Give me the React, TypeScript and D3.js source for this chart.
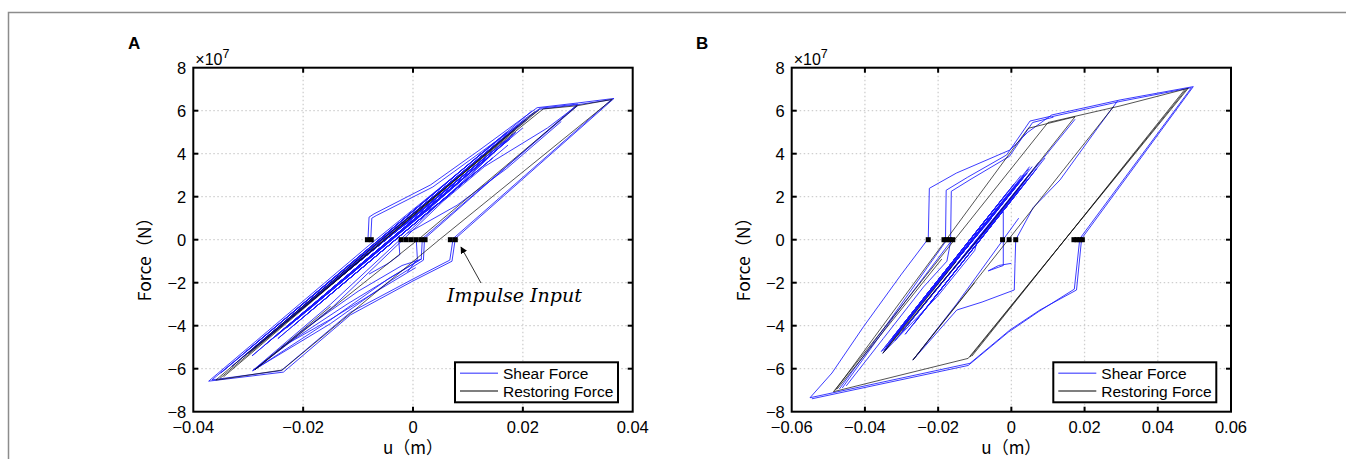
import React from "react";
import * as d3 from "d3";

type Pt = [number, number];

// ---------- ticks ----------
const yTicks = [-8, -6, -4, -2, 0, 2, 4, 6, 8];
const yTickLabels = ["−8", "−6", "−4", "−2", "0", "2", "4", "6", "8"];
const xTicksA = [-0.04, -0.02, 0, 0.02, 0.04];
const xTickLabelsA = ["−0.04", "−0.02", "0", "0.02", "0.04"];
const xTicksB = [-0.06, -0.04, -0.02, 0, 0.02, 0.04, 0.06];
const xTickLabelsB = ["−0.06", "−0.04", "−0.02", "0", "0.02", "0.04", "0.06"];
const legendLabels = ["Shear Force", "Restoring Force"];

// ---------- panel A: shear force (u [m], F [1e7 N]) ----------
const shearA1: Pt[] = [[-0.0082, 0.0], [-0.008, 1.05], [-0.0071, 1.2], [0.0032, 2.55], [0.012, 4.15], [0.0226, 6.14], [0.03, 6.36], [0.0366, 6.57], [0.0077, 0.05], [0.0071, -1.0], [0.0, -1.92], [-0.0114, -3.5], [-0.0236, -6.16], [-0.0372, -6.58], [-0.0082, -0.3], [0.0205, 5.65]];
const shearA2: Pt[] = [[-0.0077, 0.0], [-0.0075, 1.0], [-0.0067, 1.12], [0.0036, 2.45], [0.0124, 4.08], [0.0231, 6.07], [0.03, 6.28], [0.0361, 6.51], [0.0073, 0.05], [0.0067, -0.95], [0.0, -1.83], [-0.0114, -3.38], [-0.024, -6.09], [-0.0366, -6.52], [-0.0077, -0.38], [0.0208, 5.6]];
const shearA3: Pt[] = [[0.0205, 5.65], [0.0232, 6.12], [0.03, 6.31], [0.0021, 0.05], [0.0019, -0.95], [-0.004, -1.9], [-0.015, -3.9], [-0.0292, -6.09], [-0.015, -3.0], [0.0187, 5.0]];
const shearA4: Pt[] = [[0.03, 6.24], [0.0017, 0.05], [0.0015, -0.9], [-0.0044, -1.8], [-0.0154, -3.8], [-0.0288, -6.04], [-0.0145, -3.1], [0.0182, 4.9]];
const shearA5: Pt[] = [[0.0187, 5.0], [-0.0296, -5.2], [0.0168, 4.6], [-0.0277, -4.8], [0.0149, 4.2], [-0.0259, -4.4], [0.0131, 3.8], [-0.024, -4.0], [0.0112, 3.4], [-0.0221, -3.6], [0.0093, 3.0], [-0.0203, -3.2], [0.0075, 2.6], [-0.0184, -2.8], [0.0056, 2.2], [-0.0166, -2.4], [0.0038, 1.8], [-0.0147, -2.0], [0.0019, 1.4], [-0.0128, -1.6]];
const shearA6: Pt[] = [[0.014, 3.9], [-0.025, -4.5], [0.0122, 3.5], [-0.023, -4.1], [0.0104, 3.1], [-0.0211, -3.7], [0.0086, 2.7], [-0.0192, -3.3], [0.0068, 2.3], [-0.0174, -2.9], [0.005, 1.9], [-0.0155, -2.5], [0.0032, 1.5], [-0.0136, -2.1]];
const shearA7: Pt[] = [[-0.0292, -6.09], [-0.0215, -4.6], [-0.012, -3.0], [-0.003, -1.6], [0.0012, -0.95]];
const shearA8: Pt[] = [[-0.029, -6.06], [-0.02, -4.2], [-0.01, -2.4], [-0.002, -1.2], [0.0016, -0.9]];
const shearA9: Pt[] = [[-0.024, -5.0], [-0.015, -3.7], [-0.006, -2.3], [0.0005, -1.3]];
const shearA10: Pt[] = [[-0.002, 0.6], [0.006, 1.9], [0.013, 3.4], [0.0245, 5.2], [0.0299, 6.25]];
const shearA11: Pt[] = [[-0.001, 0.3], [0.008, 1.6], [0.017, 3.3], [0.027, 5.5]];
const shearA12: Pt[] = [[-0.0026, 0.0], [-0.0024, -0.7], [-0.0045, -1.1], [-0.008, -1.6]];
const shearA13: Pt[] = [[0.0006, 0.0], [0.0008, -0.9], [-0.001, -1.5]];
const shearA14: Pt[] = [[0.0205, 5.6], [-0.033, -5.9], [0.0191, 5.3], [-0.0312, -5.5], [0.0172, 4.9], [-0.0289, -5.0], [0.0149, 4.4], [-0.0265, -4.5], [0.0125, 3.9], [-0.0242, -4.0], [0.0102, 3.4], [-0.0219, -3.5], [0.0079, 2.9], [-0.0196, -3.0], [0.0056, 2.4], [-0.0172, -2.5], [0.0032, 1.9], [-0.0149, -2.0], [0.0009, 1.4], [-0.0126, -1.5], [-0.0014, 0.9], [-0.0103, -1.0]];
const shearA15: Pt[] = [[0.0173, 4.4], [-0.0246, -4.6], [0.0145, 3.8], [-0.0218, -4.0], [0.0117, 3.2], [-0.019, -3.4], [0.0089, 2.6], [-0.0162, -2.8], [0.0061, 2.0], [-0.0134, -2.2], [0.0033, 1.4], [-0.0106, -1.6]];
const shearA16: Pt[] = [[0.02, 5.2], [-0.0293, -5.4], [0.0177, 4.7], [-0.027, -4.9], [0.0153, 4.2], [-0.0247, -4.4], [0.013, 3.7], [-0.0223, -3.9], [0.0107, 3.2], [-0.02, -3.4], [0.0084, 2.7], [-0.0177, -2.9], [0.006, 2.2], [-0.0154, -2.4], [0.0037, 1.7], [-0.013, -1.9]];
const shearA17: Pt[] = [[0.0217, 6.0], [-0.035, -6.2], [0.0171, 5.0], [-0.0304, -5.2], [0.0124, 4.0], [-0.0257, -4.2], [0.0078, 3.0], [-0.0211, -3.2]];

// ---------- panel A: restoring force ----------
const restA1: Pt[] = [[-0.0058, 0.0], [0.0237, 6.08], [0.0299, 6.23], [0.0363, 6.53], [0.0047, -0.02], [-0.0238, -6.06], [-0.0359, -6.53], [-0.0058, 0.0]];
const restA2: Pt[] = [[-0.0352, -6.46], [0.0229, 6.03]];
const restA3: Pt[] = [[0.0299, 6.23], [0.001, 0.02], [-0.0288, -6.05], [-0.015, -3.1]];
const restA4: Pt[] = [[-0.03, -5.3], [0.0185, 5.1]];
const restA5: Pt[] = [[-0.0345, -6.38], [0.0222, 5.95]];
const impulsesA = [-0.0083, -0.0076, -0.00215, -0.00124, -0.00033, 0.00058, 0.00149, 0.0022, 0.0068, 0.0077];

// ---------- panel B: shear force ----------
const shearB1: Pt[] = [[-0.0227, 0.0], [-0.0224, 2.39], [-0.015, 3.1], [-0.0004, 4.17], [0.0045, 5.0], [0.011, 5.8], [0.0297, 6.5], [0.0497, 7.12], [0.0192, 0.05], [0.0178, -2.34], [0.0078, -3.27], [-0.0004, -4.2], [-0.0113, -5.75], [-0.055, -7.35], [-0.049, -6.2], [-0.0404, -4.05], [-0.03, -1.6], [-0.0229, 0.0]];
const shearB2: Pt[] = [[0.011, 5.72], [0.0297, 6.43], [0.0492, 7.07], [0.0187, 0.05], [0.0172, -2.3], [0.0074, -3.35], [-0.0008, -4.3], [-0.0118, -5.85], [-0.0545, -7.4]];
const shearB3: Pt[] = [[-0.047, -6.95], [-0.033, -3.7], [-0.018, -0.1], [-0.0178, 2.3], [-0.012, 2.9], [-0.0013, 3.94], [0.0051, 5.52], [0.011, 5.75]];
const shearB4: Pt[] = [[-0.0462, -6.9], [-0.0322, -3.6], [-0.0166, -0.1], [-0.0164, 2.25], [-0.011, 2.82], [-0.0005, 3.88], [0.0058, 5.45], [0.0115, 5.7]];
const shearB5: Pt[] = [[0.029, 6.45], [0.024, 5.3], [0.0133, 2.78], [0.006, 1.5], [0.0012, 0.0], [0.001, -1.1], [0.0008, -2.34], [-0.008, -2.9], [-0.0149, -3.27], [-0.0269, -5.6], [-0.015, -3.0], [0.002, 1.0]];
const shearB6: Pt[] = [[-0.0022, 1.3], [-0.0022, -1.2], [-0.0063, -1.45], [-0.0035, -1.2], [0.0, -1.1]];
const shearB7: Pt[] = [[0.0174, 5.6], [-0.0092, 0.05], [-0.01, -0.5], [-0.02, -2.6], [-0.0351, -5.28], [-0.015, -0.9], [0.005, 3.4]];
const shearB8: Pt[] = [[0.0057, 3.4], [-0.0342, -5.0], [0.0043, 3.1], [-0.0323, -4.6], [0.0029, 2.8], [-0.0304, -4.2], [0.0015, 2.5], [-0.0286, -3.8], [0.0001, 2.2], [-0.0267, -3.4], [-0.0013, 1.9], [-0.0249, -3.0], [-0.0027, 1.6], [-0.023, -2.6], [-0.0041, 1.3], [-0.0211, -2.2], [-0.0054, 1.0], [-0.0193, -1.8]];
const shearB9: Pt[] = [[0.0075, 3.6], [-0.0318, -4.7], [0.0058, 3.2], [-0.0297, -4.25], [0.0041, 2.8], [-0.0276, -3.8], [0.0024, 2.4], [-0.0255, -3.35], [0.0007, 2.0], [-0.0234, -2.9], [-0.001, 1.6], [-0.0213, -2.45]];
const shearB10: Pt[] = [[0.0048, 3.3], [-0.0348, -5.15], [0.0035, 3.0], [-0.0331, -4.75], [0.002, 2.7], [-0.0313, -4.35], [0.0006, 2.4], [-0.0294, -3.95], [-0.0008, 2.1], [-0.0276, -3.55], [-0.0022, 1.8], [-0.0257, -3.15], [-0.0036, 1.5], [-0.0238, -2.75]];
const shearB11: Pt[] = [[-0.0166, -0.1], [-0.0176, -1.0], [-0.024, -2.2], [-0.035, -4.6], [-0.0451, -6.8]];
const shearB12: Pt[] = [[0.0027, 3.0], [-0.0355, -5.2], [0.0008, 2.6], [-0.0327, -4.6], [-0.0011, 2.2], [-0.0299, -4.0], [-0.0029, 1.8], [-0.0271, -3.4], [-0.0048, 1.4], [-0.0243, -2.8], [-0.0067, 1.0], [-0.0215, -2.2]];
const shearB13: Pt[] = [[0.0092, 3.8], [-0.029, -4.4], [0.0069, 3.3], [-0.0266, -3.9], [0.0045, 2.8], [-0.0243, -3.4], [0.0022, 2.3], [-0.022, -2.9], [-0.0001, 1.8], [-0.0197, -2.4]];

// ---------- panel B: restoring force ----------
const restB1: Pt[] = [[0.0483, 7.04], [-0.0118, -5.52], [-0.0486, -7.07], [0.01, 5.45], [0.0297, 6.22], [0.0483, 7.04]];
const restB2: Pt[] = [[0.0478, 7.0], [-0.0113, -5.46]];
const restB3: Pt[] = [[0.0279, 6.19], [-0.0006, 0.05], [-0.0269, -5.6], [-0.01, -2.0]];
const restB4: Pt[] = [[0.0174, 5.72], [-0.0092, 0.0], [-0.0351, -5.28], [-0.015, -1.0]];
const restB5: Pt[] = [[-0.0481, -7.0], [0.0046, 5.18], [0.0174, 5.72]];
const restB6: Pt[] = [[-0.0476, -6.95], [-0.019, -0.9]];
const restB7: Pt[] = [[0.0473, 6.97], [-0.0108, -5.42]];
const impulsesB = [-0.0227, -0.0184, -0.0176, -0.0168, -0.016, -0.0024, -0.0006, 0.0012, 0.0171, 0.0179, 0.0187, 0.0194];

const shearA: Pt[][] = [shearA1, shearA2, shearA3, shearA4, shearA5, shearA6, shearA7, shearA8, shearA9, shearA10, shearA11, shearA12, shearA13, shearA14, shearA15, shearA16, shearA17];
const restA: Pt[][] = [restA1, restA2, restA3, restA4, restA5];
const shearB: Pt[][] = [shearB1, shearB2, shearB3, shearB4, shearB5, shearB6, shearB7, shearB8, shearB9, shearB10, shearB11, shearB12, shearB13];
const restB: Pt[][] = [restB1, restB2, restB3, restB4, restB5, restB6, restB7];

const BLUE = "#1a1aff";
const TICK_FONT = "'Liberation Sans', Arial, sans-serif";
const LABEL_FONT = "'Noto Sans CJK JP', 'Noto Sans', sans-serif";

interface PanelProps {
  id: string;
  letter: string;
  letterX: number;
  left: number;
  right: number;
  xDomain: [number, number];
  xTicks: number[];
  xLabels: string[];
  shear: Pt[][];
  rest: Pt[][];
  impulses: number[];
  legendX: number;
  children?: React.ReactNode;
}

const TOP = 67.7;
const BOTTOM = 411.7;

function Panel(p: PanelProps) {
  const x = d3.scaleLinear().domain(p.xDomain).range([p.left, p.right]);
  const y = d3.scaleLinear().domain([-8, 8]).range([BOTTOM, TOP]);
  const line = d3.line<Pt>().x((d) => x(d[0])).y((d) => y(d[1]));
  const tickLen = 5;
  const w = p.right - p.left;
  return (
    <g>
      <defs>
        <clipPath id={`clip-${p.id}`}>
          <rect x={p.left} y={TOP} width={w} height={BOTTOM - TOP} />
        </clipPath>
      </defs>
      <text x={p.letterX} y={49} fontFamily={TICK_FONT} fontWeight="bold" fontSize={17}>{p.letter}</text>
      <g stroke="#cfcfcf" strokeWidth={1.3} strokeDasharray="1.5,2.5">
        {p.xTicks.slice(1, -1).map((t) => (
          <line key={"gx" + t} x1={x(t)} x2={x(t)} y1={TOP} y2={BOTTOM} />
        ))}
        {yTicks.slice(1, -1).map((t) => (
          <line key={"gy" + t} x1={p.left} x2={p.right} y1={y(t)} y2={y(t)} />
        ))}
      </g>
      <g clipPath={`url(#clip-${p.id})`} fill="none">
        {p.shear.map((c, i) => (
          <path key={"s" + i} d={line(c) || ""} stroke={BLUE} strokeWidth={1} strokeOpacity={0.85} strokeLinejoin="round" />
        ))}
        {p.rest.map((c, i) => (
          <path key={"r" + i} d={line(c) || ""} stroke="#111" strokeWidth={0.9} strokeOpacity={0.8} strokeLinejoin="round" />
        ))}
      </g>
      {p.impulses.map((u, i) => (
        <rect key={"im" + i} x={x(u) - 2.5} y={y(0) - 2.5} width={5} height={5} fill="#000" />
      ))}
      <rect x={p.left} y={TOP} width={w} height={BOTTOM - TOP} fill="none" stroke="#000" strokeWidth={2} />
      <g stroke="#000" strokeWidth={2}>
        {p.xTicks.slice(1, -1).map((t) => (
          <g key={"tx" + t}>
            <line x1={x(t)} x2={x(t)} y1={BOTTOM} y2={BOTTOM - tickLen} />
            <line x1={x(t)} x2={x(t)} y1={TOP} y2={TOP + tickLen} />
          </g>
        ))}
        {yTicks.slice(1, -1).map((t) => (
          <g key={"ty" + t}>
            <line x1={p.left} x2={p.left + tickLen} y1={y(t)} y2={y(t)} />
            <line x1={p.right} x2={p.right - tickLen} y1={y(t)} y2={y(t)} />
          </g>
        ))}
      </g>
      <g fontFamily={TICK_FONT} fontSize={16.5} fill="#000">
        {p.xTicks.map((t, i) => (
          <text key={"lx" + t} x={x(t)} y={433} textAnchor="middle">{p.xLabels[i]}</text>
        ))}
        {yTicks.map((t, i) => (
          <text key={"ly" + t} x={p.left - 7} y={y(t) + 5.8} textAnchor="end">{yTickLabels[i]}</text>
        ))}
      </g>
      <text x={p.left + 2} y={65} fontFamily={TICK_FONT} fontSize={16}>×10<tspan dy={-7} fontSize={12.5}>7</tspan></text>
      <text x={(p.left + p.right) / 2} y={454} textAnchor="middle" fontFamily={LABEL_FONT} fontSize={17}>u（m）</text>
      <text transform={`translate(${p.left - 42},255) rotate(-90)`} textAnchor="middle" fontFamily={LABEL_FONT} fontSize={17.5}>Force（N）</text>
      <g>
        <rect x={p.legendX} y={362.3} width={163} height={40} fill="#fff" stroke="#000" strokeWidth={2} />
        <line x1={p.legendX + 5} x2={p.legendX + 43} y1={373.3} y2={373.3} stroke="#6f6fff" strokeWidth={1.5} />
        <line x1={p.legendX + 5} x2={p.legendX + 43} y1={391} y2={391} stroke="#555" strokeWidth={1.5} />
        <text x={p.legendX + 48} y={378.5} fontFamily={TICK_FONT} fontSize={15.5}>{legendLabels[0]}</text>
        <text x={p.legendX + 48} y={396.5} fontFamily={TICK_FONT} fontSize={15.5}>{legendLabels[1]}</text>
      </g>
      {p.children}
    </g>
  );
}

export default function App() {
  return (
    <svg width={1346} height={459} style={{ position: "absolute", left: 0, top: 0, background: "#fff" }}>
      <defs>
        <marker id="arrowhead" viewBox="0 0 10 10" refX="9" refY="5" markerWidth="7" markerHeight="7" orient="auto">
          <path d="M0,0 L10,5 L0,10 z" fill="#000" />
        </marker>
      </defs>
      <rect x={0} y={0} width={1346} height={459} fill="#fff" />
      <path d="M8.5,470 L8.5,12.5 L1360,12.5" fill="none" stroke="#8c8c8c" strokeWidth={1.5} />
      <Panel id="A" letter="A" letterX={128} left={193.3} right={632.7} xDomain={[-0.04, 0.04]} xTicks={xTicksA} xLabels={xTickLabelsA} shear={shearA} rest={restA} impulses={impulsesA} legendX={455}>
        <line x1={481} y1={283} x2={461} y2={247} stroke="#333" strokeWidth={1} markerEnd="url(#arrowhead)" />
        <text x={447} y={302} fontFamily="'DejaVu Serif', 'Liberation Serif', serif" fontStyle="italic" fontSize={19}>Impulse Input</text>
      </Panel>
      <Panel id="B" letter="B" letterX={696} left={791.7} right={1231} xDomain={[-0.06, 0.06]} xTicks={xTicksB} xLabels={xTickLabelsB} shear={shearB} rest={restB} impulses={impulsesB} legendX={1053.3} />
    </svg>
  );
}
